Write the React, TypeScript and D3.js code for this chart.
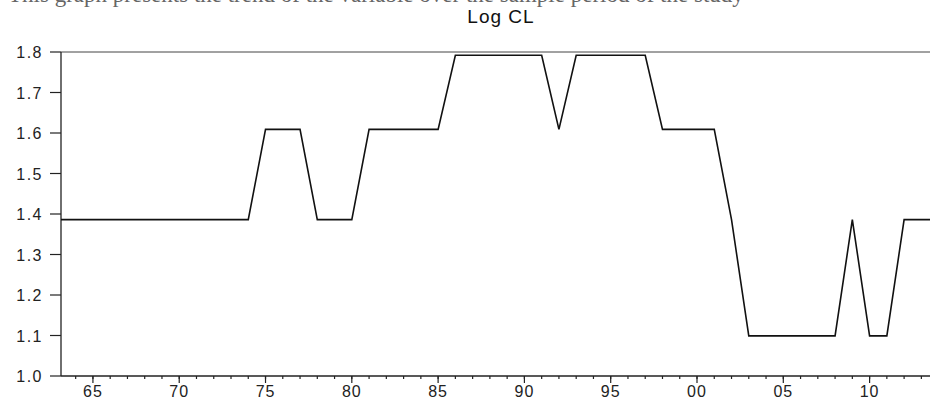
import * as d3 from "d3";

const years = [
  1963, 1964, 1965, 1966, 1967, 1968, 1969, 1970, 1971, 1972, 1973, 1974,
  1975, 1976, 1977, 1978, 1979, 1980, 1981, 1982, 1983, 1984, 1985, 1986,
  1987, 1988, 1989, 1990, 1991, 1992, 1993, 1994, 1995, 1996, 1997, 1998,
  1999, 2000, 2001, 2002, 2003, 2004, 2005, 2006, 2007, 2008, 2009, 2010,
  2011, 2012, 2013, 2013.5,
];

const logCl = [
  1.386, 1.386, 1.386, 1.386, 1.386, 1.386, 1.386, 1.386, 1.386, 1.386, 1.386, 1.386,
  1.609, 1.609, 1.609, 1.386, 1.386, 1.386, 1.609, 1.609, 1.609, 1.609, 1.609, 1.792,
  1.792, 1.792, 1.792, 1.792, 1.792, 1.609, 1.792, 1.792, 1.792, 1.792, 1.792, 1.609,
  1.609, 1.609, 1.609, 1.386, 1.099, 1.099, 1.099, 1.099, 1.099, 1.099, 1.386, 1.099,
  1.099, 1.386, 1.386, 1.386,
];

const yTicks = [1.0, 1.1, 1.2, 1.3, 1.4, 1.5, 1.6, 1.7, 1.8];
const xTickYears = [1965, 1970, 1975, 1980, 1985, 1990, 1995, 2000, 2005, 2010];

const width = 930;
const height = 399;
const plot = { left: 61, right: 931, top: 52, bottom: 376 };

const xScale = d3.scaleLinear().domain([1963.15, 2013.5]).range([plot.left, 930]);
const yScale = d3.scaleLinear().domain([1.0, 1.8]).range([plot.bottom, plot.top]);

const minorYears = d3.range(1964, 2014);
const axisFont = "Liberation Sans, Arial, sans-serif";

export default function App() {
  const points = years.map((year, i) => ({ year, value: logCl[i] }));
  const line = d3
    .line<{ year: number; value: number }>()
    .x((p) => xScale(Math.max(p.year, 1963.15)))
    .y((p) => yScale(p.value));

  return (
    <svg
      width={width}
      height={height}
      viewBox={`0 0 ${width} ${height}`}
      style={{ position: "absolute", left: 0, top: 0, background: "#fff" }}
    >
      {/* clipped line of body text from the page above, only descenders show */}
      <text x={8} y={2} fontFamily="Liberation Serif, Times New Roman, serif" fontSize={23} fill="#666">
        This graph presents the trend of the variable over the sample period of the study
      </text>

      <text x={501} y={23} textAnchor="middle" fontFamily={axisFont} fontSize={19} letterSpacing={1} fill="#111">
        Log CL
      </text>

      {/* frame */}
      <line x1={plot.left} x2={plot.right} y1={plot.top} y2={plot.top} stroke="#444" strokeWidth={1} />
      <line x1={plot.left} x2={plot.left} y1={plot.top} y2={plot.bottom} stroke="#222" strokeWidth={1.3} />
      <line x1={plot.left} x2={plot.right} y1={plot.bottom} y2={plot.bottom} stroke="#222" strokeWidth={1.3} />

      {yTicks.map((tick) => (
        <g key={`y-${tick}`} transform={`translate(0, ${yScale(tick)})`}>
          <line x1={plot.left - 11} x2={plot.left} y1={0} y2={0} stroke="#222" strokeWidth={1.2} />
          <text x={43} y={6} textAnchor="end" fontFamily={axisFont} fontSize={16} letterSpacing={1.5} fill="#222">
            {tick.toFixed(1)}
          </text>
        </g>
      ))}

      {minorYears.map((yr) => (
        <line
          key={`m-${yr}`}
          x1={xScale(yr)}
          x2={xScale(yr)}
          y1={plot.bottom}
          y2={plot.bottom + 3}
          stroke="#222"
          strokeWidth={1.2}
        />
      ))}

      {xTickYears.map((yr) => (
        <g key={`x-${yr}`} transform={`translate(${xScale(yr)}, 0)`}>
          <line y1={plot.bottom} y2={plot.bottom + 7} stroke="#222" strokeWidth={1.2} />
          <text y={397} textAnchor="middle" fontFamily={axisFont} fontSize={16} letterSpacing={1} fill="#222">
            {String(yr % 100).padStart(2, "0")}
          </text>
        </g>
      ))}

      <path d={line(points) ?? ""} fill="none" stroke="#111" strokeWidth={1.6} strokeLinejoin="miter" />
    </svg>
  );
}
